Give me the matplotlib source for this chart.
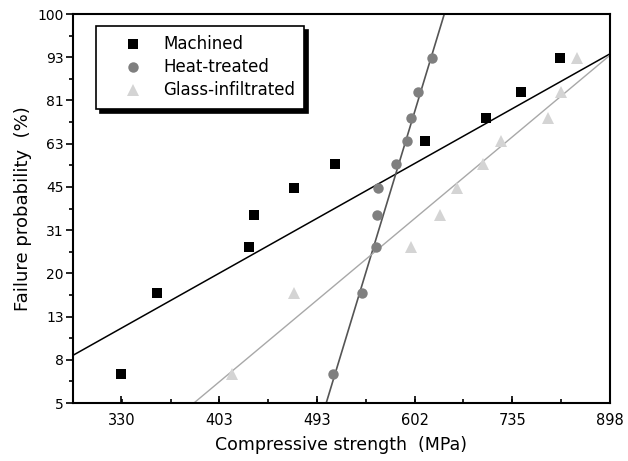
import numpy as np
import matplotlib
matplotlib.use("Agg")
import matplotlib.pyplot as plt

# failure probability (Bernard median ranks, %), shared by all three series
prob = [6.7, 16.3, 26.0, 35.6, 45.2, 54.8, 64.4, 74.0, 83.7, 93.3]

# compressive strength (MPa)
machined = [330, 355, 429, 433, 470, 511, 615, 697, 748, 811]
heat_treated = [509, 540, 556, 557, 558, 579, 593, 597, 606, 624]
glass_infiltrated = [414, 470, 597, 634, 656, 692, 718, 791, 812, 839]

# weibull fits: modulus m and characteristic strength s0 (MPa)
fit_m = {"Machined": 3.17, "Heat-treated": 18.6, "Glass-infiltrated": 4.72}
fit_s0 = {"Machined": 647, "Heat-treated": 590, "Glass-infiltrated": 723}

xtick_vals = [330, 403, 493, 602, 735, 898]
ytick_labels = ["5", "8", "13", "20", "31", "45", "63", "81", "93", "100"]


def wb(p):
    p = np.asarray(p) / 100.0
    return np.log(-np.log(1 - p))


fig = plt.figure(figsize=(6.28, 4.61), dpi=100)
ax = fig.add_axes([0.1162, 0.1258, 0.8551, 0.8438])

series = [
    ("Machined", machined, "s", "black", "black", 7, 1.1),
    ("Heat-treated", heat_treated, "o", "#7f7f7f", "#555555", 7.5, 1.2),
    ("Glass-infiltrated", glass_infiltrated, "^", "#d4d4d4", "#a8a8a8", 8.5, 1.0),
]

xl = (5.7, 6.8)
xx = np.linspace(xl[0], xl[1], 200)
for name, vals, mk, mc, lc, ms, lw in series:
    ax.plot(np.log(vals), wb(prob), linestyle="none", marker=mk, color=mc,
            markersize=ms, markeredgewidth=0, label=name, zorder=3)
    ax.plot(xx, fit_m[name] * (xx - np.log(fit_s0[name])), color=lc,
            linewidth=lw, zorder=2)

ax.set_xlim(*xl)
ax.set_ylim(-3, 1.5)

ax.set_xticks(np.log(xtick_vals))
ax.set_xticklabels([str(v) for v in xtick_vals], fontsize=10.5)
ax.set_xticks(np.arange(5.7, 6.81, 0.1), minor=True)
ax.set_yticks(np.arange(-3, 1.51, 0.5))
ax.set_yticklabels(ytick_labels, fontsize=10)
ax.set_yticks(np.arange(-2.75, 1.5, 0.5), minor=True)

ax.tick_params(axis="x", which="both", direction="in", pad=7)
ax.tick_params(axis="x", which="major", length=5, width=1.2)
ax.tick_params(axis="x", which="minor", length=3, width=1.2)
ax.tick_params(axis="y", which="both", direction="out", pad=1.5)
ax.tick_params(axis="y", which="major", length=5, width=1.2)
ax.tick_params(axis="y", which="minor", length=3, width=1.2)
for s in ax.spines.values():
    s.set_linewidth(1.5)

ax.set_xlabel("Compressive strength  (MPa)", fontsize=12.5, labelpad=6)
ax.set_ylabel("Failure probability  (%)", fontsize=13, labelpad=4)

leg = ax.legend(loc="upper left", bbox_to_anchor=(0.043, 0.969),
                borderaxespad=0, fontsize=12, fancybox=False,
                edgecolor="black", framealpha=1, handletextpad=0.15,
                borderpad=0.56, labelspacing=0.3, handlelength=3.3,
                shadow={"color": "black", "alpha": 1, "ox": 3, "oy": -3})
leg.get_frame().set_linewidth(1.2)

fig.savefig("out.png", dpi=100)
